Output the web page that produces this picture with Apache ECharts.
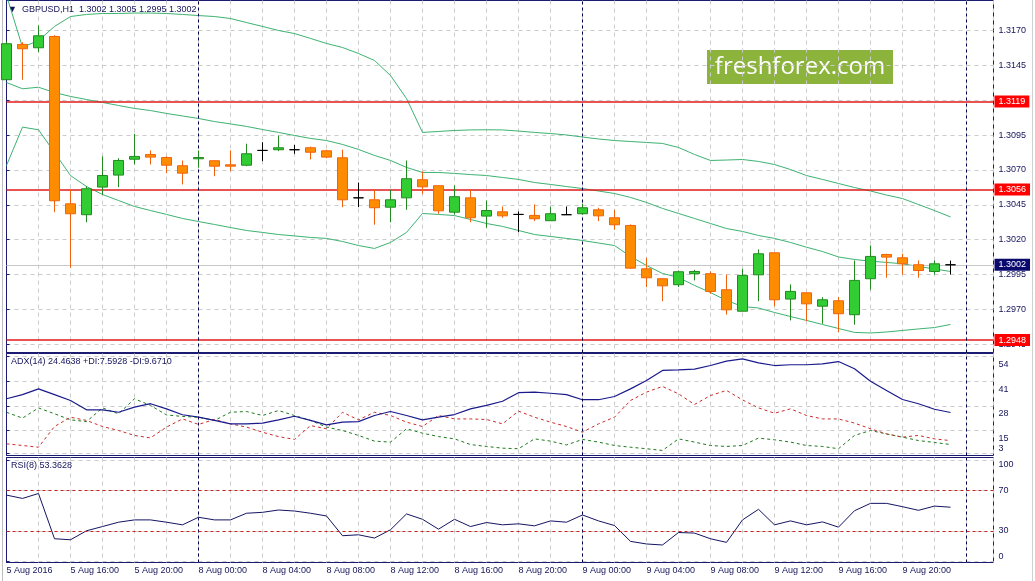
<!DOCTYPE html>
<html>
<head>
<meta charset="utf-8">
<script src="https://cdn.jsdelivr.net/npm/echarts@6/dist/echarts.min.js"></script>
<style>
  html, body { margin: 0; padding: 0; background: #fff; }
  #chart { width: 1035px; height: 581px; }
</style>
</head>
<body>
<div id="chart"></div>
<script>
// GBPUSD H1, 5 Aug 12:00 .. 9 Aug 23:00 (one value per hourly bar)
const open = [1.31347,1.31600,1.31576,1.31657,1.30457,1.30379,1.30577,1.30663,1.30777,1.30811,
  1.30789,1.30730,1.30780,1.30766,1.30737,1.30734,1.30840,1.30845,1.30845,1.30859,
  1.30837,1.30787,1.30500,1.30486,1.30433,1.30500,1.30630,1.30587,1.30397,1.30500,
  1.30369,1.30400,1.30381,1.30374,1.30336,1.30379,1.30386,1.30414,1.30357,1.30302,
  1.29991,1.29920,1.29877,1.29956,1.29956,1.29841,1.29687,1.29948,1.30106,1.29774,
  1.29819,1.29723,1.29762,1.29662,1.29920,1.30094,1.30070,1.30020,1.29972,1.30020];
const close = [1.31605,1.31569,1.31662,1.30479,1.30386,1.30565,1.30660,1.30768,1.30797,1.30792,
  1.30734,1.30677,1.30789,1.30727,1.30727,1.30816,1.30840,1.30859,1.30845,1.30827,
  1.30792,1.30486,1.30500,1.30429,1.30486,1.30637,1.30579,1.30407,1.30508,1.30357,
  1.30409,1.30371,1.30381,1.30350,1.30386,1.30379,1.30429,1.30371,1.30307,1.29996,
  1.29927,1.29869,1.29970,1.29972,1.29829,1.29697,1.29944,1.30099,1.29769,1.29829,
  1.29740,1.29769,1.29669,1.29908,1.30080,1.30075,1.30027,1.29979,1.30027,1.30020];
const low = [1.31347,1.31347,1.31544,1.30397,1.29999,1.30325,1.30522,1.30577,1.30739,1.30739,
  1.30677,1.30596,1.30716,1.30655,1.30691,1.30727,1.30763,1.30835,1.30816,1.30775,
  1.30784,1.30433,1.30433,1.30307,1.30325,1.30414,1.30529,1.30386,1.30379,1.30325,
  1.30285,1.30357,1.30254,1.30333,1.30336,1.30379,1.30381,1.30333,1.30271,1.29991,
  1.29860,1.29759,1.29860,1.29908,1.29812,1.29662,1.29687,1.29759,1.29723,1.29621,
  1.29616,1.29597,1.29537,1.29590,1.29841,1.29927,1.29950,1.29927,1.29950,1.29950];
const high = [1.31623,1.31616,1.31736,1.31666,1.30558,1.30584,1.30797,1.30784,1.30959,1.30840,
  1.30797,1.30768,1.30840,1.30768,1.30840,1.30888,1.30899,1.30947,1.30880,1.30868,
  1.30845,1.30845,1.30610,1.30558,1.30558,1.30768,1.30689,1.30587,1.30589,1.30558,
  1.30481,1.30438,1.30402,1.30453,1.30438,1.30438,1.30457,1.30429,1.30414,1.30309,
  1.30070,1.29920,1.29979,1.29984,1.29974,1.29950,1.29991,1.30130,1.30106,1.29879,
  1.29819,1.29788,1.29788,1.30051,1.30159,1.30099,1.30099,1.30051,1.30051,1.30050];

// Bollinger bands
const bbUpper = [1.31951,1.31580,1.31628,1.31729,1.31800,1.31815,1.31822,1.31822,1.31825,1.31825,
  1.31822,1.31815,1.31807,1.31800,1.31786,1.31757,1.31729,1.31700,1.31678,1.31643,
  1.31607,1.31578,1.31535,1.31485,1.31377,1.31212,1.30969,1.30976,1.30983,1.30987,
  1.30988,1.30987,1.30979,1.30969,1.30961,1.30951,1.30936,1.30922,1.30911,1.30904,
  1.30897,1.30890,1.30861,1.30811,1.30768,1.30771,1.30775,1.30761,1.30739,1.30703,
  1.30660,1.30632,1.30603,1.30574,1.30549,1.30520,1.30495,1.30452,1.30409,1.30363];
const bbMiddle = [1.31327,1.31282,1.31293,1.31255,1.31227,1.31205,1.31184,1.31162,1.31141,1.31126,
  1.31105,1.31087,1.31069,1.31047,1.31030,1.31012,1.30990,1.30969,1.30947,1.30926,
  1.30911,1.30883,1.30847,1.30804,1.30768,1.30718,1.30682,1.30682,1.30675,1.30667,
  1.30660,1.30646,1.30632,1.30610,1.30596,1.30581,1.30567,1.30549,1.30531,1.30503,
  1.30467,1.30424,1.30388,1.30352,1.30316,1.30280,1.30259,1.30230,1.30209,1.30180,
  1.30146,1.30115,1.30076,1.30058,1.30046,1.30037,1.30027,1.30008,1.29990,1.29972];
const bbLower = [1.30732,1.31007,1.30988,1.30825,1.30660,1.30581,1.30524,1.30481,1.30438,1.30409,
  1.30381,1.30352,1.30330,1.30309,1.30287,1.30266,1.30252,1.30237,1.30227,1.30216,
  1.30209,1.30187,1.30158,1.30137,1.30180,1.30252,1.30388,1.30381,1.30373,1.30345,
  1.30316,1.30295,1.30266,1.30237,1.30223,1.30209,1.30194,1.30176,1.30158,1.30080,
  1.30015,1.29958,1.29929,1.29872,1.29821,1.29764,1.29721,1.29710,1.29678,1.29649,
  1.29621,1.29592,1.29563,1.29535,1.29531,1.29538,1.29549,1.29560,1.29570,1.29592];

// ADX(14)
const adx = [31.7,33.9,36.9,33.9,30.8,25.9,25.9,24.6,27.3,29.1,
  26.4,23.3,22.0,20.3,18.5,18.5,18.9,20.6,22.5,20.3,
  18.0,19.4,19.7,22.9,25.0,22.9,20.6,22.0,23.4,26.4,
  28.2,30.4,34.9,35.2,34.6,33.9,31.2,31.2,32.9,36.9,
  41.3,46.6,46.9,47.3,49.2,51.5,52.7,50.6,49.2,49.6,
  49.6,50.1,51.3,47.5,40.9,36.1,31.3,29.1,26.2,24.46];
const plusDI = [24.6,21.5,26.9,23.8,20.6,19.7,26.9,23.8,31.7,28.2,
  23.2,22.4,22.0,20.3,24.6,25.0,22.9,25.5,22.9,20.3,
  16.8,15.0,12.4,9.4,8.9,15.9,13.6,11.8,10.6,7.6,
  6.6,5.7,5.4,10.6,9.4,7.4,10.3,8.9,7.1,6.2,
  5.4,4.5,10.6,8.9,7.1,6.6,7.1,11.0,10.1,8.9,
  7.1,6.6,5.4,12.4,15.0,13.2,11.5,9.7,8.7,7.59];
const minusDI = [8.0,7.1,6.2,17.1,22.0,20.3,17.1,15.0,12.4,11.1,
  16.8,21.1,18.2,20.8,18.5,16.8,14.1,11.8,10.3,17.6,
  15.9,24.6,20.6,24.6,22.9,19.4,17.1,22.9,21.1,21.1,
  20.8,18.5,25.2,22.0,19.4,17.1,14.1,18.5,22.0,30.8,
  35.2,38.2,34.3,28.7,33.4,36.1,31.1,26.9,24.1,26.4,
  22.9,21.1,21.1,18.9,15.9,13.2,11.5,12.4,10.6,9.67];

// RSI(8)
const rsi = [65.4,62.1,67.0,22.1,21.1,30.0,34.2,38.5,40.8,40.8,
  38.5,35.9,43.4,40.8,40.8,47.4,48.3,50.6,49.6,47.4,
  44.7,25.1,26.0,22.8,31.0,46.7,41.4,31.6,41.4,34.2,
  38.2,35.9,36.9,34.9,39.8,38.5,45.7,39.8,35.2,19.5,
  16.9,15.9,28.3,27.7,22.1,18.5,40.8,51.3,35.9,39.8,
  35.9,38.8,33.6,49.9,57.2,57.2,53.9,50.3,54.5,53.36];

// axes: tick labels
const timeTickPos = [0,4,8,12,16,20,24,28,32,36,40,44,48,52,56];
const timeTickLabels = ['5 Aug 2016','5 Aug 16:00','5 Aug 20:00','8 Aug 00:00','8 Aug 04:00',
  '8 Aug 08:00','8 Aug 12:00','8 Aug 16:00','8 Aug 20:00','9 Aug 00:00','9 Aug 04:00',
  '9 Aug 08:00','9 Aug 12:00','9 Aug 16:00','9 Aug 20:00'];
const daySeparators = [12, 36, 60];
const priceTicks = [1.2945,1.2970,1.2995,1.3020,1.3045,1.3070,1.3095,1.3120,1.3145,1.3170];
const redLevels = [1.3119, 1.3056, 1.2948];
const lastPrice = 1.3002;
const adxTicks = [3, 15, 28, 41, 54];
const rsiTicks = [0, 30, 70, 100];
const rsiLevels = [70, 30];

const FONT = '"Liberation Sans", Arial, sans-serif';
const TXT = '#14145c';
const FRAME = '#1b1b72';
const gridDash = { color: '#cbcbcb', type: [4, 4], width: 1 };

const candles = open.map((o, i) => [i, o, close[i], low[i], high[i]]);
const idx = (arr) => arr.map((v, i) => [i, v]);

const chart = echarts.init(document.getElementById('chart'));

function xAxis(gridIndex, withLabels) {
  return {
    type: 'value', gridIndex, min: 0, max: 61.6875, interval: 2,
    axisLine: { show: false }, axisTick: { show: false },
    axisLabel: withLabels ? {
      show: true, customValues: timeTickPos, align: 'left', margin: 4,
      fontSize: 9, fontFamily: FONT, color: TXT,
      formatter: (v) => timeTickLabels[timeTickPos.indexOf(v)]
    } : { show: false },
    splitLine: { show: true, lineStyle: gridDash }
  };
}

// vertical day separators, one empty helper series per panel
function separatorSeries(gridIndex) {
  return {
    name: 'days' + gridIndex, type: 'line', xAxisIndex: gridIndex, yAxisIndex: gridIndex,
    data: [], z: 2, silent: true,
    markLine: {
      symbol: ['none', 'none'], silent: true, precision: 5,
      lineStyle: { color: '#00004a', type: [3, 3], width: 1 },
      label: { show: false },
      data: daySeparators.map((x) => ({ xAxis: x }))
    }
  };
}

// horizontal price levels with a coloured price box on the axis
function levelSeries(name, values, lineColor, lineWidth, boxColor) {
  return {
    name, type: 'line', xAxisIndex: 0, yAxisIndex: 0, data: [], z: 2, silent: true,
    markLine: {
      symbol: ['none', 'none'], silent: true, precision: 5,
      lineStyle: { color: lineColor, type: 'solid', width: lineWidth },
      label: {
        show: true, position: 'end', distance: 1,
        formatter: (p) => p.value.toFixed(4),
        backgroundColor: boxColor, color: '#fff', padding: [2, 4, 1, 4],
        fontSize: 9, fontFamily: FONT
      },
      data: values.map((v) => ({ yAxis: v }))
    }
  };
}

const option = {
  animation: false,
  backgroundColor: '#fff',
  title: [
    { text: '\u25BC  GBPUSD,H1  1.3002 1.3005 1.2995 1.3002', left: 8, top: 5, padding: 0,
      textStyle: { fontSize: 9, fontWeight: 'normal', color: TXT, fontFamily: FONT } },
    { text: 'ADX(14) 24.4638 +DI:7.5928 -DI:9.6710', left: 11, top: 357, padding: 0,
      textStyle: { fontSize: 9, fontWeight: 'normal', color: TXT, fontFamily: FONT } },
    { text: 'RSI(8) 53.3628', left: 11, top: 461, padding: 0,
      textStyle: { fontSize: 9, fontWeight: 'normal', color: TXT, fontFamily: FONT } }
  ],
  graphic: [
    { type: 'line', shape: { x1: 2.5, y1: 0, x2: 2.5, y2: 581 }, style: { stroke: '#bdbdbd', lineWidth: 1 } },
    { type: 'line', shape: { x1: 1032.5, y1: 0, x2: 1032.5, y2: 581 }, style: { stroke: '#d0d0d0', lineWidth: 1 } },
    {
      type: 'group', left: 707, top: 50, z: 10,
      children: [
        { type: 'rect', shape: { x: 0, y: 0, width: 186, height: 34 }, style: { fill: '#8cb43c' } },
        { type: 'text', style: { text: 'freshforex.com', x: 93, y: 17, align: 'center', verticalAlign: 'middle',
          fill: '#ffffff', font: '24px "Open Sans", sans-serif' } }
      ]
    }
  ],
  grid: [
    { left: 6.5, top: 0.5, width: 987, height: 352, show: true, borderColor: FRAME, borderWidth: 1 },
    { left: 6.5, top: 353.5, width: 987, height: 102, show: true, borderColor: FRAME, borderWidth: 1 },
    { left: 6.5, top: 457.5, width: 987, height: 105, show: true, borderColor: FRAME, borderWidth: 1 }
  ],
  xAxis: [xAxis(0, false), xAxis(1, false), xAxis(2, true)],
  yAxis: [
    {
      type: 'value', gridIndex: 0, position: 'right', min: 1.29391, max: 1.31915,
      axisLine: { show: true, lineStyle: { color: FRAME } },
      axisTick: { show: true, length: 3, customValues: priceTicks, lineStyle: { color: FRAME } },
      axisLabel: { customValues: priceTicks, margin: 5, fontSize: 9, fontFamily: FONT, color: TXT,
        formatter: (v) => v.toFixed(4) },
      splitLine: { show: true, lineStyle: gridDash }
    },
    {
      type: 'value', gridIndex: 1, position: 'right', min: 1.84, max: 55.53,
      axisLine: { show: true, lineStyle: { color: FRAME } },
      axisTick: { show: true, length: 3, customValues: adxTicks, lineStyle: { color: FRAME } },
      axisLabel: {
        customValues: adxTicks, margin: 5, fontSize: 9, fontFamily: FONT, color: TXT,
        formatter: (v) => (v === adxTicks[0] ? '{b|' + v + '}' : '{a|' + v + '}'),
        rich: { a: { padding: [16, 0, 0, 0] }, b: { padding: [0, 0, 9, 0] } }
      },
      splitLine: { show: true, lineStyle: gridDash }
    },
    {
      type: 'value', gridIndex: 2, position: 'right', min: -1.47, max: 102.7,
      axisLine: { show: true, lineStyle: { color: FRAME } },
      axisTick: { show: true, length: 3, customValues: rsiTicks, lineStyle: { color: FRAME } },
      axisLabel: {
        customValues: rsiTicks, margin: 5, fontSize: 9, fontFamily: FONT, color: TXT,
        formatter: (v) => (v === 100 ? '{t|100}' : v === 0 ? '{z|0}' : '{m|' + v + '}'),
        rich: { t: { padding: [8, 0, 0, 0] }, z: { padding: [0, 0, 9, 0] }, m: {} }
      },
      splitLine: { show: true, lineStyle: gridDash }
    }
  ],
  series: [
    levelSeries('last price', [lastPrice], '#c8c8c8', 1, '#0a0a6e'),
    levelSeries('levels', redLevels, '#e01a1a', 1.6, '#ff0000'),
    separatorSeries(0),
    separatorSeries(1),
    separatorSeries(2),
    {
      name: 'GBPUSD', type: 'candlestick', xAxisIndex: 0, yAxisIndex: 0, data: candles,
      barWidth: 10, z: 5,
      itemStyle: {
        color: '#32cd32', color0: '#ff8c00',
        borderColor: '#208a20', borderColor0: '#f2620c', borderColorDoji: '#000000', borderWidth: 1
      }
    },
    { name: 'BB upper', type: 'line', xAxisIndex: 0, yAxisIndex: 0, data: idx(bbUpper), showSymbol: false,
      lineStyle: { color: '#3cb371', width: 1 }, z: 4 },
    { name: 'BB middle', type: 'line', xAxisIndex: 0, yAxisIndex: 0, data: idx(bbMiddle), showSymbol: false,
      lineStyle: { color: '#3cb371', width: 1 }, z: 4 },
    { name: 'BB lower', type: 'line', xAxisIndex: 0, yAxisIndex: 0, data: idx(bbLower), showSymbol: false,
      lineStyle: { color: '#3cb371', width: 1 }, z: 4 },

    { name: '+DI', type: 'line', xAxisIndex: 1, yAxisIndex: 1, data: idx(plusDI), showSymbol: false,
      lineStyle: { color: '#1d7a1d', width: 1, type: [3, 3] }, z: 3 },
    { name: '-DI', type: 'line', xAxisIndex: 1, yAxisIndex: 1, data: idx(minusDI), showSymbol: false,
      lineStyle: { color: '#cc2b2b', width: 1, type: [3, 3] }, z: 3 },
    { name: 'ADX', type: 'line', xAxisIndex: 1, yAxisIndex: 1, data: idx(adx), showSymbol: false,
      lineStyle: { color: '#1a1a8c', width: 1.2 }, z: 4 },

    { name: 'RSI', type: 'line', xAxisIndex: 2, yAxisIndex: 2, data: idx(rsi), showSymbol: false,
      lineStyle: { color: '#141464', width: 1 }, z: 4,
      markLine: {
        symbol: ['none', 'none'], silent: true, label: { show: false },
        lineStyle: { color: '#c62222', type: [3, 3], width: 1 },
        data: rsiLevels.map((v) => ({ yAxis: v }))
      } }
  ]
};

chart.setOption(option);
</script>
</body>
</html>
